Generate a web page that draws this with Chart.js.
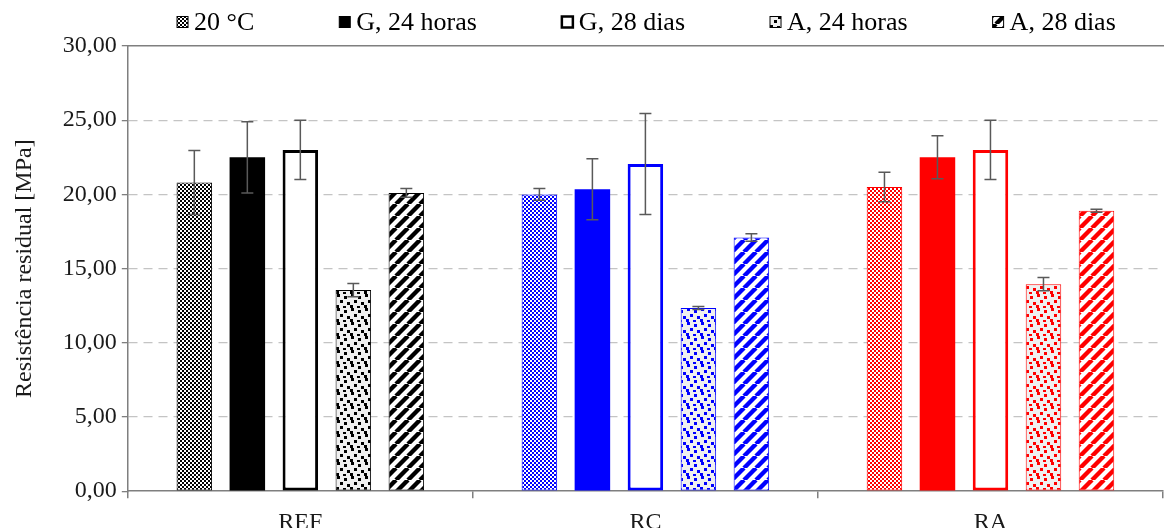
<!DOCTYPE html>
<html lang="pt">
<head>
  <meta charset="UTF-8">
  <title>Resistência residual</title>
  <script src="https://cdn.jsdelivr.net/npm/chart.js"></script>
  <style>
    body { margin: 0; background: #fff; }
  </style>
</head>
<body>
  <canvas id="grafico" width="1165" height="528"></canvas>

  <script>
    const categorias = ['REF', 'RC', 'RA'];
    const series = ['20 °C', 'G, 24 horas', 'G, 28 dias', 'A, 24 horas', 'A, 28 dias'];

    // valores médios [MPa] por categoria (REF, RC, RA)
    const valores20C = [20.8, 20.0, 20.5];
    const valoresG24 = [22.5, 20.35, 22.5];
    const valoresG28 = [23.0, 22.05, 23.0];
    const valoresA24 = [13.55, 12.35, 13.95];
    const valoresA28 = [20.1, 17.1, 18.9];

    // desvio (barras de erro)
    const erro20C = [2.15, 0.4, 1.0];
    const erroG24 = [2.4, 2.05, 1.45];
    const erroG28 = [2.0, 3.4, 2.0];
    const erroA24 = [0.45, 0.1, 0.45];
    const erroA28 = [0.3, 0.25, 0.1];

    const cores = ['#000000', '#0000ff', '#ff0000'];
    const padroes = ['xadrez', 'solido', 'vazio', 'confete', 'listras'];
    const bordas = [1, 0, 3, 1, 1];

    const valores = [valores20C, valoresG24, valoresG28, valoresA24, valoresA28];
    const erros = [erro20C, erroG24, erroG28, erroA24, erroA28];

    const fonte = '"Liberation Serif", "Times New Roman", serif';
    Chart.defaults.font.family = fonte;
    Chart.defaults.font.size = 24;
    Chart.defaults.color = '#1a1a1a';

    // preenchimentos em padrão (tipo Excel)
    function fundo(tipo, cor) {
      if (tipo === 'solido') return cor;
      if (tipo === 'vazio') return '#ffffff';
      const c = document.createElement('canvas');
      const g = c.getContext('2d');
      if (tipo === 'xadrez') {
        c.width = c.height = 4;
        g.fillStyle = '#fff';
        g.fillRect(0, 0, 4, 4);
        g.fillStyle = cor;
        g.fillRect(0, 0, 2, 2);
        g.fillRect(2, 2, 2, 2);
      } else if (tipo === 'confete') {
        c.width = c.height = 14;
        g.fillStyle = '#f0f0f0';
        g.fillRect(0, 0, 14, 14);
        g.fillStyle = cor;
        [[1, 0], [8, 2], [4, 6], [11, 8], [0, 11], [7, 12]].forEach(([x, y]) => g.fillRect(x, y, 3, 3));
      } else if (tipo === 'listras') {
        c.width = c.height = 12;
        g.fillStyle = '#fff';
        g.fillRect(0, 0, 12, 12);
        g.strokeStyle = cor;
        g.lineWidth = 4.4;
        [-12, 0, 12].forEach(o => {
          g.beginPath();
          g.moveTo(o, 12);
          g.lineTo(o + 12, 0);
          g.stroke();
        });
      }
      return g.createPattern(c, 'repeat');
    }

    const barrasErro = {
      id: 'barrasErro',
      afterDatasetsDraw(chart) {
        const { ctx } = chart;
        const y = chart.scales.y;
        ctx.save();
        ctx.strokeStyle = '#595959';
        ctx.lineWidth = 1.5;
        chart.data.datasets.forEach((ds, i) => {
          chart.getDatasetMeta(i).data.forEach((bar, j) => {
            const yTop = y.getPixelForValue(ds.data[j] + ds.erro[j]);
            const yBot = y.getPixelForValue(ds.data[j] - ds.erro[j]);
            ctx.beginPath();
            ctx.moveTo(bar.x, yTop); ctx.lineTo(bar.x, yBot);
            ctx.moveTo(bar.x - 6, yTop); ctx.lineTo(bar.x + 6, yTop);
            ctx.moveTo(bar.x - 6, yBot); ctx.lineTo(bar.x + 6, yBot);
            ctx.stroke();
          });
        });
        ctx.restore();
      }
    };

    // legenda desenhada à mão para ter o espaçamento largo do original
    const legendaFundos = padroes.map(p => fundo(p, '#000'));
    const legenda = {
      id: 'legenda',
      afterDraw(chart) {
        const { ctx, chartArea } = chart;
        ctx.save();
        ctx.font = '26px ' + fonte;
        const caixa = 11, folga = 6, espaco = 85;
        const larguras = series.map(t => ctx.measureText(t).width);
        const total = larguras.reduce((a, b) => a + b, 0) + series.length * (caixa + folga) + (series.length - 1) * espaco;
        let x = (chart.width + chartArea.left) / 2 - total / 2;
        const yc = 22;
        series.forEach((t, i) => {
          ctx.fillStyle = legendaFundos[i];
          ctx.fillRect(x, yc - caixa / 2, caixa, caixa);
          ctx.strokeStyle = '#000';
          ctx.lineWidth = i === 2 ? 2.5 : 1;
          ctx.strokeRect(x, yc - caixa / 2, caixa, caixa);
          ctx.fillStyle = '#000';
          ctx.textBaseline = 'middle';
          ctx.fillText(t, x + caixa + folga, yc + 1);
          x += caixa + folga + larguras[i] + espaco;
        });
        ctx.restore();
      }
    };

    const ctx = document.getElementById('grafico').getContext('2d');
    const chart = new Chart(ctx, {
      type: 'bar',
      data: {
        labels: categorias,
        datasets: series.map((s, i) => ({
          label: s,
          data: valores[i],
          erro: erros[i],
          backgroundColor: cores.map(c => fundo(padroes[i], c)),
          borderColor: cores,
          borderWidth: bordas[i],
          borderSkipped: false,
          categoryPercentage: 0.768,
          barPercentage: 0.67
        }))
      },
      options: {
        responsive: false,
        animation: false,
        layout: { padding: { top: 38, right: 2, bottom: -19, left: 0 } },
        plugins: {
          legend: { display: false },
          tooltip: { enabled: false }
        },
        scales: {
          x: {
            grid: {
              offset: true,
              drawOnChartArea: false,
              tickLength: 7,
              color: '#7f7f7f',
              lineWidth: 1.5
            },
            border: { color: '#7f7f7f', width: 1.5 },
            ticks: { padding: 10, font: { size: 24 } }
          },
          x2: {
            position: 'top',
            grid: { display: false },
            ticks: { display: false },
            border: { color: '#7f7f7f', width: 1.5 }
          },
          y: {
            min: 0,
            max: 30,
            ticks: {
              stepSize: 5,
              padding: 5,
              callback: v => v.toFixed(2).replace('.', ',')
            },
            grid: {
              color: c => (c.tick && (c.tick.value === 0 || c.tick.value === 30)) ? 'rgba(0,0,0,0)' : '#c4c4c4',
              lineWidth: 1.3,
              tickColor: '#7f7f7f',
              tickBorderDash: [],
              tickLength: 6
            },
            border: { color: '#7f7f7f', width: 1.5, dash: [9, 6] },
            title: {
              display: true,
              text: 'Resistência residual [MPa]',
              font: { size: 24 },
              padding: { top: 10, bottom: 19 }
            }
          }
        }
      },
      plugins: [barrasErro, legenda]
    });
  </script>
</body>
</html>
